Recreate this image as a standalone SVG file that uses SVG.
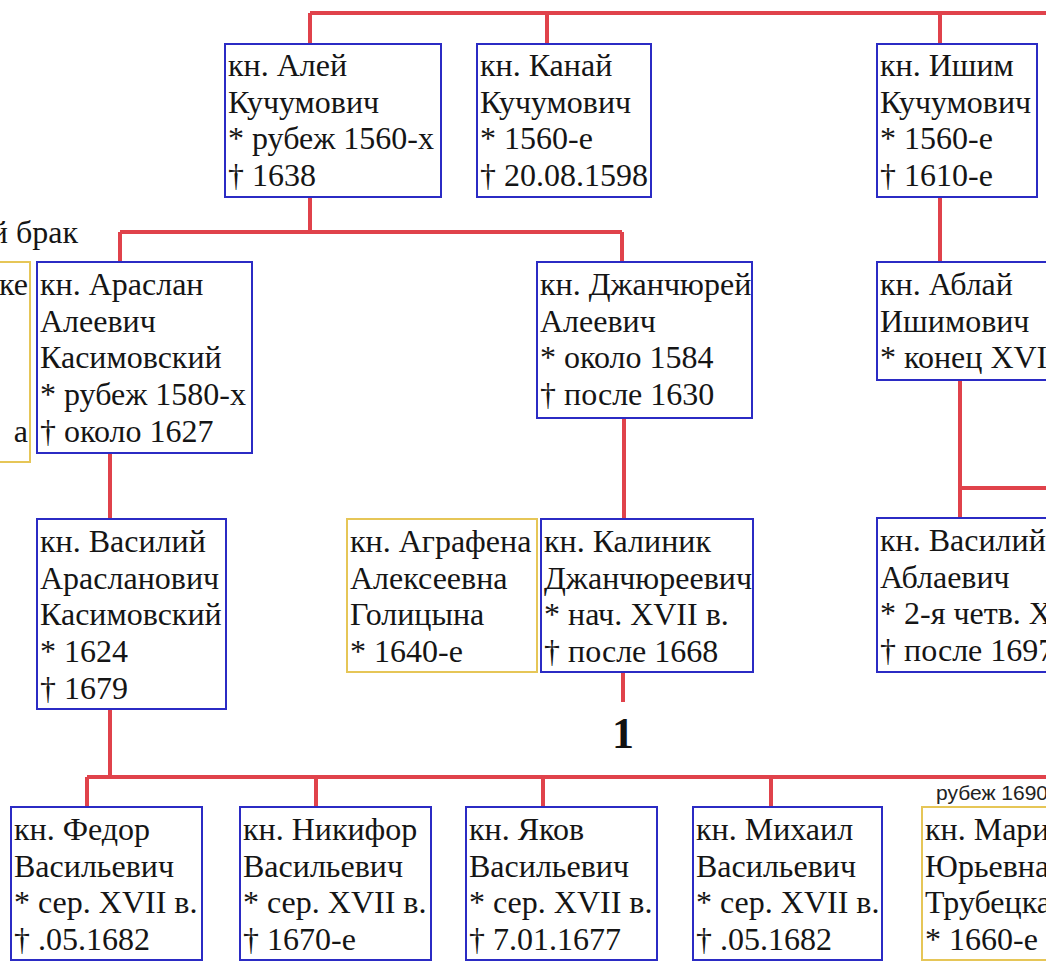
<svg xmlns="http://www.w3.org/2000/svg" width="1046" height="961" viewBox="0 0 1046 961">
<style>
.b{fill:#fff;stroke:#2b2bc4;stroke-width:2}
.y{fill:#fff;stroke:#e6c657;stroke-width:2}
.t{font-family:"Liberation Serif","Times New Roman",serif;font-size:32px;fill:#151515}
.c{fill:none;stroke:#e0424b;stroke-width:4}
.n{font-family:"Liberation Serif","Times New Roman",serif;font-size:44px;font-weight:bold;fill:#111}
.s{font-family:"Liberation Sans",Arial,sans-serif;font-size:21px;fill:#222}
</style>
<rect width="1046" height="961" fill="#fff"/>
<g id="connectors">
<path class="c" d="M310 13H1046M310 13V44M547 13V44M940 13V44"/>
<path class="c" d="M310 197V232M120 232H622M120 232V262M622 232V262"/>
<path class="c" d="M940 197V262"/>
<path class="c" d="M960 380V518M960 488H1046"/>
<path class="c" d="M110 453V519"/>
<path class="c" d="M624 418V519"/>
<path class="c" d="M623 672V702"/>
<path class="c" d="M110 709V777M87 777H1046M87 777V807M316 777V807M543 777V807M771 777V807"/>
</g>
<g id="n-aley"><rect class="b" x="225" y="44" width="216" height="153"/>
<text class="t" x="228" y="76"><tspan x="228">кн. Алей</tspan><tspan x="228" dy="36.7">Кучумович</tspan><tspan x="228" dy="36.7">* рубеж 1560-х</tspan><tspan x="228" dy="36.7">† 1638</tspan></text></g>
<g id="n-kanay"><rect class="b" x="477" y="44" width="174" height="153"/>
<text class="t" x="480" y="76"><tspan x="480">кн. Канай</tspan><tspan x="480" dy="36.7">Кучумович</tspan><tspan x="480" dy="36.7">* 1560-е</tspan><tspan x="480" dy="36.7">† 20.08.1598</tspan></text></g>
<g id="n-ishim"><rect class="b" x="877" y="44" width="160" height="153"/>
<text class="t" x="880" y="76"><tspan x="880">кн. Ишим</tspan><tspan x="880" dy="36.7">Кучумович</tspan><tspan x="880" dy="36.7">* 1560-е</tspan><tspan x="880" dy="36.7">† 1610-е</tspan></text></g>
<g id="n-wife-left"><rect class="y" x="-10" y="262" width="40" height="200"/>
<text class="t" x="28" y="295" text-anchor="end">ке</text>
<text class="t" x="28" y="442" text-anchor="end">а</text></g>
<text class="t" x="78" y="243" text-anchor="end">й брак</text>
<g id="n-araslan"><rect class="b" x="37" y="262" width="215" height="191"/>
<text class="t" x="40" y="295"><tspan x="40">кн. Араслан</tspan><tspan x="40" dy="36.7">Алеевич</tspan><tspan x="40" dy="36.7">Касимовский</tspan><tspan x="40" dy="36.7">* рубеж 1580-х</tspan><tspan x="40" dy="36.7">† около 1627</tspan></text></g>
<g id="n-dzhanchurey"><rect class="b" x="537" y="262" width="215" height="156"/>
<text class="t" x="540" y="295"><tspan x="540">кн. Джанчюрей</tspan><tspan x="540" dy="36.7">Алеевич</tspan><tspan x="540" dy="36.7">* около 1584</tspan><tspan x="540" dy="36.7">† после 1630</tspan></text></g>
<g id="n-ablay"><rect class="b" x="877" y="262" width="200" height="118"/>
<text class="t" x="880" y="295"><tspan x="880">кн. Аблай</tspan><tspan x="880" dy="36.7">Ишимович</tspan><tspan x="880" dy="36.7">* конец XVI в.</tspan></text></g>
<g id="n-vasiliy-a"><rect class="b" x="37" y="519" width="189" height="190"/>
<text class="t" x="40" y="552"><tspan x="40">кн. Василий</tspan><tspan x="40" dy="36.7">Арасланович</tspan><tspan x="40" dy="36.7">Касимовский</tspan><tspan x="40" dy="36.7">* 1624</tspan><tspan x="40" dy="36.7">† 1679</tspan></text></g>
<g id="n-agrafena"><rect class="y" x="347" y="519" width="190" height="153"/>
<text class="t" x="350" y="552"><tspan x="350">кн. Аграфена</tspan><tspan x="350" dy="36.7">Алексеевна</tspan><tspan x="350" dy="36.7">Голицына</tspan><tspan x="350" dy="36.7">* 1640-е</tspan></text></g>
<g id="n-kalinik"><rect class="b" x="541" y="519" width="212" height="153"/>
<text class="t" x="544" y="552"><tspan x="544">кн. Калиник</tspan><tspan x="544" dy="36.7">Джанчюреевич</tspan><tspan x="544" dy="36.7">* нач. XVII в.</tspan><tspan x="544" dy="36.7">† после 1668</tspan></text></g>
<text id="ref-1" class="n" x="623" y="748" text-anchor="middle">1</text>
<g id="n-vasiliy-ablaevich"><rect class="b" x="877" y="518" width="200" height="154"/>
<text class="t" x="880" y="551"><tspan x="880">кн. Василий</tspan><tspan x="880" dy="36.7">Аблаевич</tspan><tspan x="880" dy="36.7">* 2-я четв. XVII в.</tspan><tspan x="880" dy="36.7">† после 1697</tspan></text></g>
<g id="n-fedor"><rect class="b" x="11" y="807" width="191" height="153"/>
<text class="t" x="14" y="840"><tspan x="14">кн. Федор</tspan><tspan x="14" dy="36.7">Васильевич</tspan><tspan x="14" dy="36.7">* сер. XVII в.</tspan><tspan x="14" dy="36.7">† .05.1682</tspan></text></g>
<g id="n-nikifor"><rect class="b" x="240" y="807" width="191" height="153"/>
<text class="t" x="243" y="840"><tspan x="243">кн. Никифор</tspan><tspan x="243" dy="36.7">Васильевич</tspan><tspan x="243" dy="36.7">* сер. XVII в.</tspan><tspan x="243" dy="36.7">† 1670-е</tspan></text></g>
<g id="n-yakov"><rect class="b" x="466" y="807" width="191" height="153"/>
<text class="t" x="469" y="840"><tspan x="469">кн. Яков</tspan><tspan x="469" dy="36.7">Васильевич</tspan><tspan x="469" dy="36.7">* сер. XVII в.</tspan><tspan x="469" dy="36.7">† 7.01.1677</tspan></text></g>
<g id="n-mikhail"><rect class="b" x="693" y="807" width="189" height="153"/>
<text class="t" x="696" y="840"><tspan x="696">кн. Михаил</tspan><tspan x="696" dy="36.7">Васильевич</tspan><tspan x="696" dy="36.7">* сер. XVII в.</tspan><tspan x="696" dy="36.7">† .05.1682</tspan></text></g>
<g id="n-mariya"><rect class="y" x="922" y="807" width="200" height="153"/>
<text class="t" x="925" y="840"><tspan x="925">кн. Мария</tspan><tspan x="925" dy="36.7">Юрьевна</tspan><tspan x="925" dy="36.7">Трубецкая</tspan><tspan x="925" dy="36.7">* 1660-е</tspan></text></g>
<text class="s" x="936" y="800">рубеж 1690-х</text>
</svg>
